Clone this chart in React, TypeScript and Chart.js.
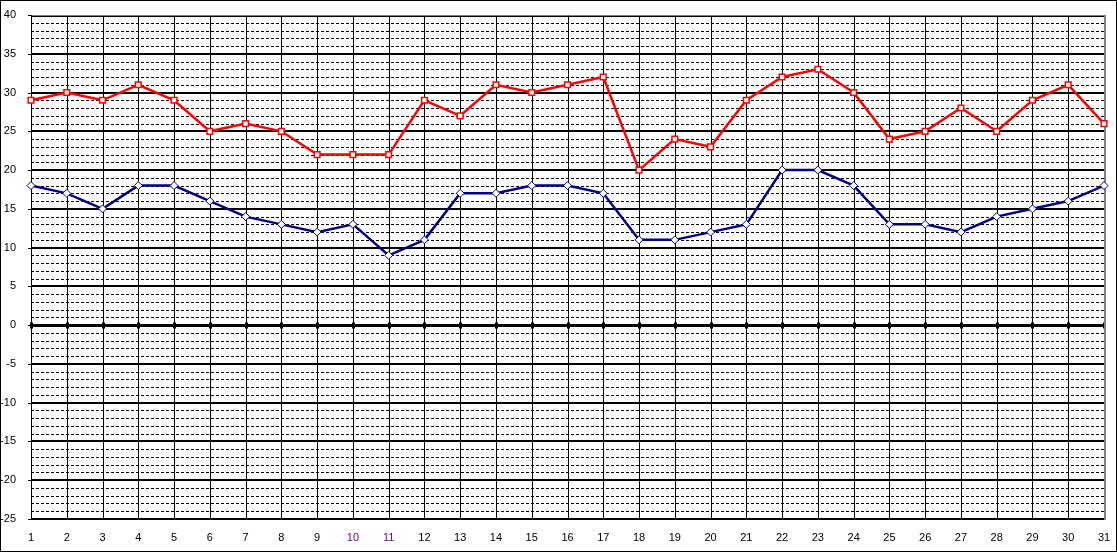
import React, { useEffect, useRef } from "react";
import { Chart, registerables } from "chart.js";

Chart.register(...registerables);

const days = ["1","2","3","4","5","6","7","8","9","10","11","12","13","14","15","16","17","18","19","20","21","22","23","24","25","26","27","28","29","30","31"];
const maxTemps = [29,30,29,31,29,25,26,25,22,22,22,29,27,31,30,31,32,20,24,23,29,32,33,30,24,25,28,25,29,31,26];
const minTemps = [18,17,15,18,18,16,14,13,12,13,9,11,17,17,18,18,17,11,11,12,13,20,20,18,13,13,12,14,15,16,18];
const Y_MIN = -25;
const Y_MAX = 40;
const Y_STEP = 5;
const purpleLabels = ["10", "11"];

const gridPlugin = {
  id: "excelGrid",
  beforeDatasetsDraw(chart: any) {
    const { ctx, chartArea: a, scales } = chart;
    const xs = scales.x;
    const ys = scales.y;
    ctx.save();
    ctx.strokeStyle = "#000";
    // minor dashed lines
    ctx.lineWidth = 1;
    ctx.setLineDash([3, 2]);
    for (let v = Y_MIN; v <= Y_MAX; v++) {
      if (v % Y_STEP === 0) continue;
      const py = Math.round(ys.getPixelForValue(v)) + 0.5;
      ctx.beginPath();
      ctx.moveTo(a.left, py);
      ctx.lineTo(a.right, py);
      ctx.stroke();
    }
    ctx.setLineDash([]);
    // vertical lines
    for (let i = 0; i < days.length; i++) {
      const px = Math.round(xs.getPixelForValue(i)) + 0.5;
      ctx.beginPath();
      ctx.moveTo(px, a.top);
      ctx.lineTo(px, a.bottom);
      ctx.stroke();
    }
    // major lines
    for (let v = Y_MIN; v <= Y_MAX; v += Y_STEP) {
      const py = Math.round(ys.getPixelForValue(v));
      ctx.lineWidth = v === 0 ? 3 : 2;
      ctx.beginPath();
      ctx.moveTo(a.left, v === 0 ? py + 0.5 : py + (v === Y_MAX ? 1 : 0));
      ctx.lineTo(a.right, v === 0 ? py + 0.5 : py + (v === Y_MAX ? 1 : 0));
      ctx.stroke();
      // left tick
      ctx.lineWidth = 1;
      ctx.beginPath();
      ctx.moveTo(a.left - 3, py + 0.5);
      ctx.lineTo(a.left, py + 0.5);
      ctx.stroke();
    }
    // zero-line ticks
    const y0 = Math.round(ys.getPixelForValue(0)) + 0.5;
    ctx.lineWidth = 3;
    for (let i = 0; i < days.length; i++) {
      const px = Math.round(xs.getPixelForValue(i)) + 0.5;
      ctx.beginPath();
      ctx.moveTo(px, y0 - 3);
      ctx.lineTo(px, y0 + 3);
      ctx.stroke();
    }
    // left axis line
    ctx.lineWidth = 1;
    ctx.beginPath();
    ctx.moveTo(a.left + 0.5, a.top);
    ctx.lineTo(a.left + 0.5, a.bottom);
    ctx.stroke();
    // plot border gray (top + right)
    ctx.strokeStyle = "#808080";
    ctx.lineWidth = 1;
    ctx.beginPath();
    ctx.moveTo(a.left + 1, a.top + 0.5);
    ctx.lineTo(a.right + 1, a.top + 0.5);
    ctx.stroke();
    ctx.lineWidth = 2;
    ctx.beginPath();
    ctx.moveTo(a.right + 1, a.top);
    ctx.lineTo(a.right + 1, a.bottom + 1);
    ctx.stroke();
    ctx.restore();
  },
  afterDraw(chart: any) {
    const { ctx, width, height } = chart;
    ctx.save();
    ctx.strokeStyle = "#000";
    ctx.lineWidth = 1;
    ctx.strokeRect(0.5, 0.5, width - 1, height - 1);
    ctx.restore();
  },
};

export default function App() {
  const ref = useRef<HTMLCanvasElement | null>(null);
  useEffect(() => {
    if (!ref.current) return;
    const chart = new Chart(ref.current, {
      type: "line",
      data: {
        labels: days,
        datasets: [
          {
            label: "Max",
            data: maxTemps,
            borderColor: "#FF0000",
            backgroundColor: "#FFFFFF",
            borderWidth: 2.5,
            pointStyle: "rect",
            pointRadius: 4,
            pointBorderWidth: 1.5,
            pointBorderColor: "#FF0000",
            pointBackgroundColor: "#FFFFFF",
            tension: 0,
            clip: false as any,
          },
          {
            label: "Min",
            data: minTemps,
            borderColor: "#000080",
            backgroundColor: "#FFFFFF",
            borderWidth: 2.5,
            pointStyle: "rectRot",
            pointRadius: 4,
            pointBorderWidth: 1,
            pointBorderColor: "#000080",
            pointBackgroundColor: "#FFFFFF",
            tension: 0,
            clip: false as any,
          },
        ],
      },
      options: {
        animation: false,
        responsive: false,
        events: [],
        layout: { padding: { top: 15, right: 13, left: 0, bottom: 0 } },
        plugins: { legend: { display: false }, tooltip: { enabled: false } },
        scales: {
          x: {
            type: "category",
            offset: false,
            grid: { display: false },
            border: { display: false },
            ticks: {
              autoSkip: false,
              maxRotation: 0,
              padding: 4,
              font: { family: "'Liberation Sans', Arial, sans-serif", size: 11 },
              color: (ctx: any) => (purpleLabels.includes(days[ctx.index]) ? "#800080" : "#000000"),
            },
            afterFit: (s: any) => { s.height = 33; },
          },
          y: {
            min: Y_MIN,
            max: Y_MAX,
            grid: { display: false },
            border: { display: false },
            ticks: {
              stepSize: Y_STEP,
              padding: 7,
              font: { family: "'Liberation Sans', Arial, sans-serif", size: 11 },
              color: "#000000",
            },
            afterFit: (s: any) => { s.width = 31; },
          },
        },
      },
      plugins: [gridPlugin],
    });
    return () => chart.destroy();
  }, []);
  return (
    <div style={{ position: "absolute", left: 0, top: 0, width: 1117, height: 552, background: "#fff" }}>
      <canvas ref={ref} width={1117} height={552} style={{ display: "block" }} />
    </div>
  );
}
